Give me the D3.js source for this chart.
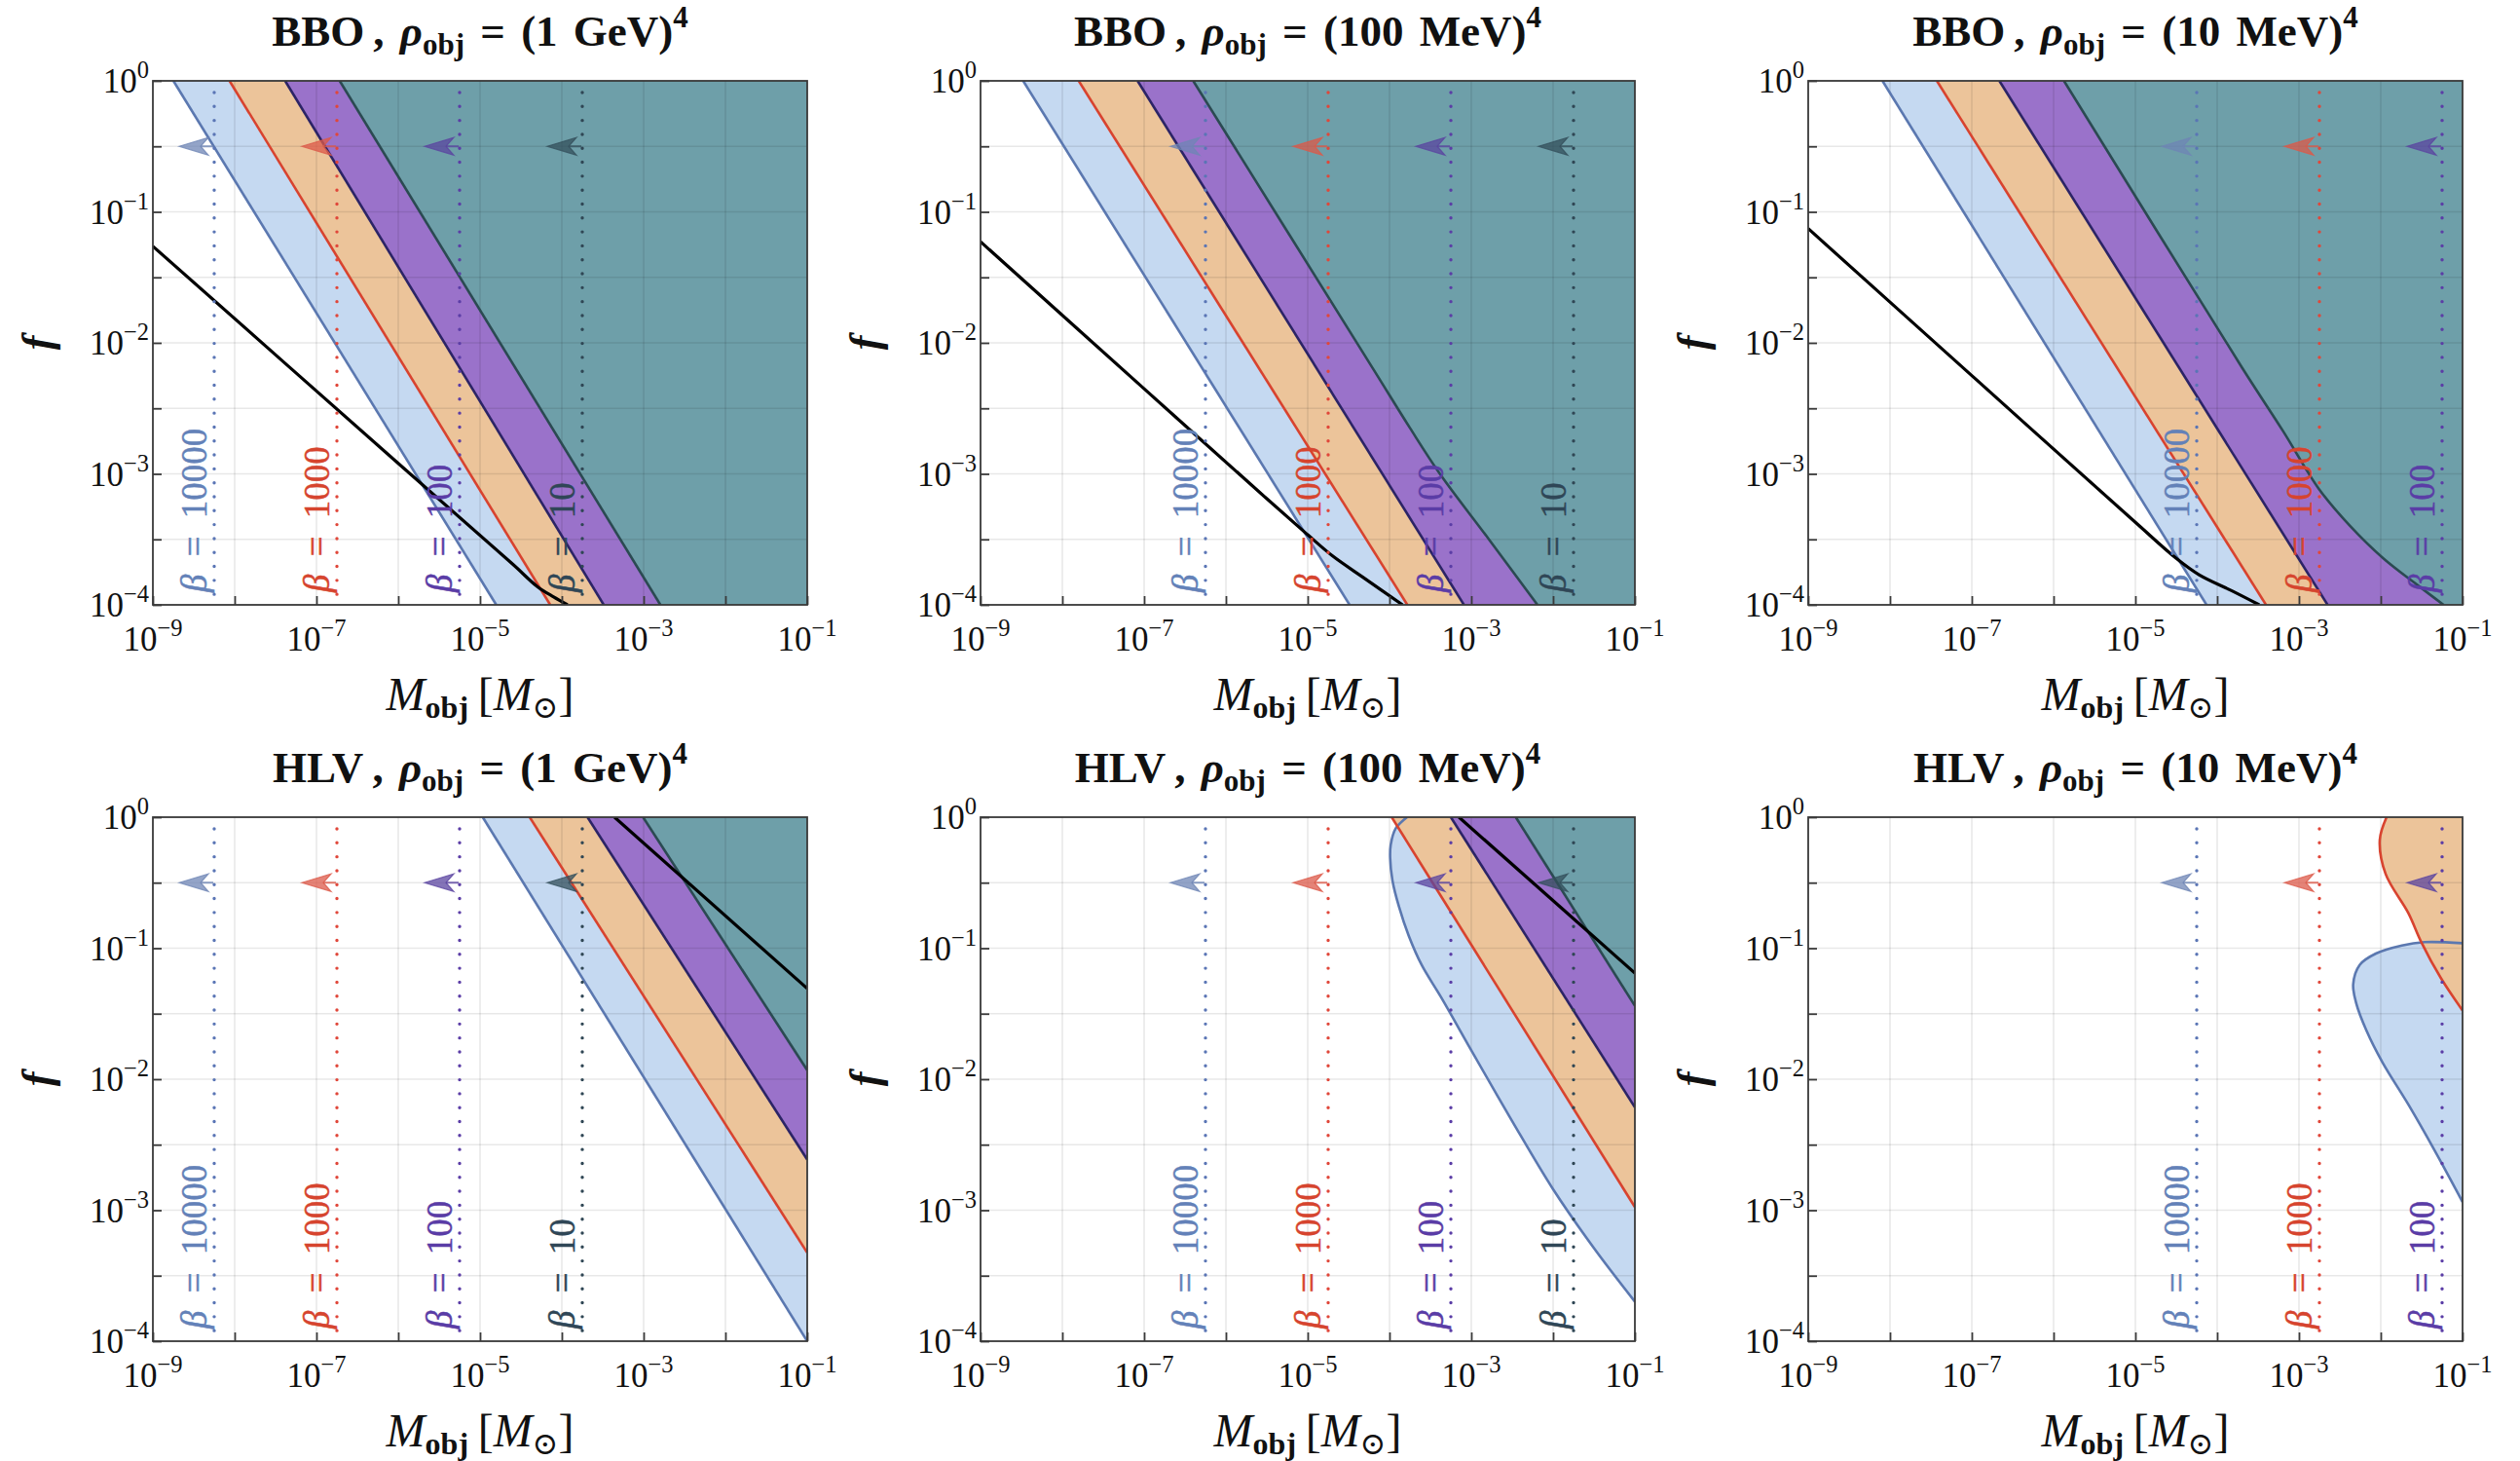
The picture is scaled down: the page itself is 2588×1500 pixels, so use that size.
<!DOCTYPE html>
<html>
<head>
<meta charset="utf-8">
<script src="https://cdn.jsdelivr.net/npm/d3@7"></script>
<style>
  body { margin: 0; background: #fff; }
</style>
</head>
<body>
<svg id="chart" width="2588" height="1500" font-family="'Liberation Serif', 'DejaVu Serif', serif"></svg>
<script>
// ---- axes -------------------------------------------------------------
const massDomain = [1e-9, 1e-1];          // M_obj [M_sun]
const fracDomain = [1e-4, 1];             // f
const massLabelExps = [-9, -7, -5, -3, -1];
const massTickExps = [-9, -8, -7, -6, -5, -4, -3, -2, -1];
const fracLabelExps = [0, -1, -2, -3, -4];
const fracTickExps = [0, -0.5, -1, -1.5, -2, -2.5, -3, -3.5, -4];

// ---- beta reference lines (log10 M) ------------------------------------
const betaValues = [10000, 1000, 100, 10];
const betaMass1GeV = [-8.25, -6.75, -5.25, -3.75];
const betaMass100MeV = [-6.25, -4.75, -3.25, -1.75];
const betaMass10MeV = [-4.25, -2.75, -1.25];
const arrowFracExp = -0.5;

// ---- region boundaries, points are [log10 M, log10 f] -------------------
// BBO, rho = (1 GeV)^4
const bbo1GeV_b10000 = [[-8.749, 0], [-4.802, -4]];
const bbo1GeV_b1000  = [[-8.063, 0], [-4.142, -4]];
const bbo1GeV_b100   = [[-7.383, 0], [-3.488, -4]];
const bbo1GeV_b10    = [[-6.716, 0], [-2.795, -4]];
const bbo1GeV_limit  = [[-9, -1.263], [-6, -2.92], [-4.6, -3.69], [-4.3, -3.86], [-4.1, -3.94], [-3.93, -4.0]];

// BBO, rho = (100 MeV)^4
const bbo100MeV_b10000 = [[-8.479, 0], [-4.488, -4]];
const bbo100MeV_b1000  = [[-7.8, 0], [-3.782, -4]];
const bbo100MeV_b100   = [[-7.08, 0], [-3.09, -4]];
const bbo100MeV_b10    = [[-6.4, 0], [-4.199, -2.2], [-3.75, -2.65], [-3.384, -3.0], [-2.787, -3.498], [-2.191, -4.0]];
const bbo100MeV_limit  = [[-9, -1.228], [-7, -2.35], [-5.5, -3.19], [-5.0, -3.465], [-4.7, -3.625], [-4.3, -3.80], [-3.84, -4.0]];

// BBO, rho = (10 MeV)^4
const bbo10MeV_b10000 = [[-8.092, 0], [-4.13, -4]];
const bbo10MeV_b1000  = [[-7.427, 0], [-3.403, -4]];
const bbo10MeV_b100   = [[-6.663, 0], [-2.65, -4]];
const bbo10MeV_b10    = [[-5.873, 0], [-3.69, -2.195], [-3.198, -2.67], [-2.75, -3.12], [-2.379, -3.395], [-1.969, -3.645], [-1.56, -3.845], [-1.232, -4.0]];
const bbo10MeV_limit  = [[-9, -1.128], [-7, -2.25], [-5.0, -3.37], [-4.5, -3.645], [-4.222, -3.77], [-3.813, -3.895], [-3.485, -4.0]];

// HLV, rho = (1 GeV)^4
const hlv1GeV_b10000 = [[-4.967, 0], [-1, -4]];
const hlv1GeV_b1000  = [[-4.393, 0], [-1, -3.324]];
const hlv1GeV_b100   = [[-3.686, 0], [-1, -2.613]];
const hlv1GeV_b10    = [[-3.007, 0], [-1, -1.931]];
const hlv1GeV_limit  = [[-3.356, 0], [-1, -1.308]];

// HLV, rho = (100 MeV)^4
const hlv100MeV_b10000 = [[-3.786, 0], [-3.925, -0.087], [-3.985, -0.211], [-3.992, -0.31], [-3.964, -0.483], [-3.885, -0.682], [-3.765, -0.905], [-3.607, -1.128], [-3.369, -1.375], [-3.0, -1.78], [-2.5, -2.32], [-2.0, -2.84], [-1.5, -3.29], [-1, -3.698]];
const hlv100MeV_b1000  = [[-3.973, 0], [-1, -2.976]];
const hlv100MeV_b100   = [[-3.25, 0], [-1, -2.215]];
const hlv100MeV_b10    = [[-2.456, 0], [-1, -1.44]];
const hlv100MeV_limit  = [[-3.151, 0], [-1, -1.19]];

// HLV, rho = (10 MeV)^4
const hlv10MeV_b10000 = [[-1, -0.962], [-1.464, -0.954], [-1.742, -0.979], [-2.06, -1.041], [-2.258, -1.128], [-2.337, -1.276], [-2.298, -1.425], [-2.179, -1.623], [-1.98, -1.871], [-1.663, -2.193], [-1.345, -2.54], [-1, -2.937]];
const hlv10MeV_b1000  = [[-1.929, 0], [-2.012, -0.173], [-1.94, -0.434], [-1.663, -0.731], [-1.504, -0.954], [-1.266, -1.227], [-1, -1.475]];

// ---- styles -------------------------------------------------------------
const regionStyle = {
  10000: { fill: "#c5d9f1", stroke: "#5b78b0" },
  1000:  { fill: "#ecc49a", stroke: "#d8432f" },
  100:   { fill: "#9a72ca", stroke: "#2c2466" },
  10:    { fill: "#6e9fa9", stroke: "#2b4a52" }
};
const betaLineColor  = { 10000: "#5a75b5", 1000: "#e0473a", 100: "#5b3da6", 10: "#2f4654" };
const betaLabelColor = { 10000: "#6381b8", 1000: "#d6442e", 100: "#5a3ca6", 10: "#2f4656" };
const arrowColor     = { 10000: "#6f86b5", 1000: "#dc5a4a", 100: "#5b45a0", 10: "#34505c" };

const panels = [
  { col: 0, row: 0, det: "BBO", rho: "1 GeV",   betaMass: betaMass1GeV,
    regions: [[10000, bbo1GeV_b10000], [1000, bbo1GeV_b1000], [100, bbo1GeV_b100], [10, bbo1GeV_b10]], limit: bbo1GeV_limit },
  { col: 1, row: 0, det: "BBO", rho: "100 MeV", betaMass: betaMass100MeV,
    regions: [[10000, bbo100MeV_b10000], [1000, bbo100MeV_b1000], [100, bbo100MeV_b100], [10, bbo100MeV_b10]], limit: bbo100MeV_limit },
  { col: 2, row: 0, det: "BBO", rho: "10 MeV",  betaMass: betaMass10MeV,
    regions: [[10000, bbo10MeV_b10000], [1000, bbo10MeV_b1000], [100, bbo10MeV_b100], [10, bbo10MeV_b10]], limit: bbo10MeV_limit },
  { col: 0, row: 1, det: "HLV", rho: "1 GeV",   betaMass: betaMass1GeV,
    regions: [[10000, hlv1GeV_b10000], [1000, hlv1GeV_b1000], [100, hlv1GeV_b100], [10, hlv1GeV_b10]], limit: hlv1GeV_limit },
  { col: 1, row: 1, det: "HLV", rho: "100 MeV", betaMass: betaMass100MeV,
    regions: [[10000, hlv100MeV_b10000], [1000, hlv100MeV_b1000], [100, hlv100MeV_b100], [10, hlv100MeV_b10]], limit: hlv100MeV_limit },
  { col: 2, row: 1, det: "HLV", rho: "10 MeV",  betaMass: betaMass10MeV,
    regions: [[10000, hlv10MeV_b10000], [1000, hlv10MeV_b1000]], limit: null }
];

// ---- layout -------------------------------------------------------------
const colX = [157, 1007, 1857];
const rowY = [83, 839];
const W = 672, H = 538;
const SERIF = "'Liberation Serif', 'DejaVu Serif', serif";

const svg = d3.select("#chart");
svg.append("rect").attr("width", 2588).attr("height", 1500).attr("fill", "#fff");

const x = d3.scaleLog().domain(massDomain).range([0, W]);
const y = d3.scaleLog().domain(fracDomain).range([H, 0]);
const px = d => x(Math.pow(10, d[0]));
const py = d => y(Math.pow(10, d[1]));
const curve = d3.line().x(px).y(py).curve(d3.curveCatmullRom.alpha(0.5));

const logMax = Math.log10(massDomain[1]);
const fMin = Math.log10(fracDomain[0]), fMax = Math.log10(fracDomain[1]);

// region = everything to the right of the boundary, closed along the frame
function regionPath(pts) {
  const first = pts[0], last = pts[pts.length - 1];
  const corners = [];
  if (last[1] <= fMin + 1e-9 && last[0] < logMax) corners.push([logMax, fMin]);
  if (first[1] >= fMax - 1e-9 && first[0] < logMax) corners.push([logMax, fMax]);
  return curve(pts) + corners.map(c => `L${px(c)},${py(c)}`).join("") + "Z";
}

function supLabel(sel, base, exp, size) {
  sel.append("tspan").text(base);
  sel.append("tspan").attr("font-size", size * 0.7).attr("dy", -size * 0.42)
     .text(exp < 0 ? "\u2212" + Math.abs(exp) : String(exp));
}

panels.forEach((p, i) => {
  const g = svg.append("g").attr("transform", `translate(${colX[p.col]},${rowY[p.row]})`)
    .attr("font-family", SERIF);
  const clipId = "clip" + i;
  g.append("clipPath").attr("id", clipId).append("rect").attr("width", W).attr("height", H);
  const plot = g.append("g").attr("clip-path", `url(#${clipId})`);

  // filled regions
  p.regions.forEach(([b, pts]) => {
    plot.append("path").attr("d", regionPath(pts))
      .attr("fill", regionStyle[b].fill).attr("stroke", "none");
  });

  // grid
  const grid = plot.append("g").attr("stroke", "#000").attr("stroke-opacity", 0.09).attr("stroke-width", 1.6);
  massTickExps.forEach(e => {
    grid.append("line").attr("x1", x(Math.pow(10, e))).attr("x2", x(Math.pow(10, e)))
      .attr("y1", 0).attr("y2", H);
  });
  fracTickExps.forEach(e => {
    grid.append("line").attr("y1", y(Math.pow(10, e))).attr("y2", y(Math.pow(10, e)))
      .attr("x1", 0).attr("x2", W);
  });

  // region boundaries
  p.regions.forEach(([b, pts]) => {
    plot.append("path").attr("d", curve(pts)).attr("fill", "none")
      .attr("stroke", regionStyle[b].stroke).attr("stroke-width", 2.6);
  });

  // limit curve
  if (p.limit) {
    plot.append("path").attr("d", curve(p.limit)).attr("fill", "none")
      .attr("stroke", "#000").attr("stroke-width", 3.2);
  }

  // beta lines, arrows and labels
  const ay = y(Math.pow(10, arrowFracExp));
  p.betaMass.forEach((m, k) => {
    const b = betaValues[k];
    const lx = x(Math.pow(10, m));
    plot.append("line").attr("x1", lx).attr("x2", lx).attr("y1", 12).attr("y2", H)
      .attr("stroke", betaLineColor[b]).attr("stroke-width", 3.4)
      .attr("stroke-linecap", "round").attr("stroke-dasharray", "0.01 14.3");

    const tip = lx - 36, back = lx - 6, notch = lx - 14, h = 9;
    plot.append("line").attr("x1", notch).attr("x2", lx - 1).attr("y1", ay).attr("y2", ay)
      .attr("stroke", arrowColor[b]).attr("stroke-width", 2).attr("stroke-opacity", 0.8);
    plot.append("path")
      .attr("d", `M${tip},${ay}L${back},${ay - h}L${notch},${ay}L${back},${ay + h}Z`)
      .attr("fill", arrowColor[b]).attr("fill-opacity", 0.75)
      .attr("stroke", arrowColor[b]).attr("stroke-width", 1.2).attr("stroke-opacity", 0.8);

    const t = plot.append("text")
      .attr("transform", `translate(${lx - 8},${H - 13}) rotate(-90)`)
      .attr("font-size", 37).attr("fill", betaLabelColor[b])
      .attr("stroke", betaLabelColor[b]).attr("stroke-width", 0.5)
      .attr("word-spacing", 9);
    t.append("tspan").attr("font-style", "italic").text("\u03B2");
    t.append("tspan").text(" = " + b);
  });

  // frame
  g.append("rect").attr("width", W).attr("height", H).attr("fill", "none")
    .attr("stroke", "#3a3a3a").attr("stroke-width", 1.8);

  // ticks (inward)
  g.append("g").attr("transform", `translate(0,${H})`)
    .call(d3.axisBottom(x).tickValues(massTickExps.map(e => Math.pow(10, e))).tickSize(-9).tickFormat(""))
    .call(s => s.select(".domain").remove())
    .call(s => s.selectAll("line").attr("stroke", "#3a3a3a").attr("stroke-width", 1.8));
  g.append("g")
    .call(d3.axisLeft(y).tickValues(fracTickExps.map(e => Math.pow(10, e))).tickSize(-9).tickFormat(""))
    .call(s => s.select(".domain").remove())
    .call(s => s.selectAll("line").attr("stroke", "#3a3a3a").attr("stroke-width", 1.8));

  // tick labels
  massLabelExps.forEach(e => {
    const t = g.append("text").attr("x", x(Math.pow(10, e))).attr("y", H + 47)
      .attr("text-anchor", "middle").attr("font-size", 35).attr("fill", "#111")
      .attr("font-family", SERIF);
    supLabel(t, "10", e, 35);
  });
  fracLabelExps.forEach(e => {
    const t = g.append("text").attr("x", -4).attr("y", y(Math.pow(10, e)) + 12)
      .attr("text-anchor", "end").attr("font-size", 35).attr("fill", "#111")
      .attr("font-family", SERIF);
    supLabel(t, "10", e, 35);
  });

  // axis titles
  const xt = g.append("text").attr("x", W / 2).attr("y", H + 108)
    .attr("text-anchor", "middle").attr("font-size", 48).attr("fill", "#111")
    .attr("font-family", SERIF);
  xt.append("tspan").attr("font-style", "italic").text("M");
  xt.append("tspan").attr("font-size", 32).attr("font-weight", "bold").attr("dy", 8).text("obj");
  xt.append("tspan").attr("dy", -8).text("\u2009[");
  xt.append("tspan").attr("font-style", "italic").text("M");
  xt.append("tspan").attr("font-size", 32).attr("dy", 8).text("\u2299");
  xt.append("tspan").attr("dy", -8).text("]");

  g.append("text").attr("transform", `translate(-104,${H / 2}) rotate(-90)`)
    .attr("text-anchor", "middle").attr("font-size", 44).attr("font-weight", "bold")
    .attr("font-style", "italic").attr("fill", "#111").attr("font-family", SERIF).text("f");

  // panel title
  const tt = g.append("text").attr("x", W / 2).attr("y", -36)
    .attr("text-anchor", "middle").attr("font-size", 45).attr("font-weight", "bold").attr("fill", "#111")
    .attr("font-family", SERIF).attr("word-spacing", 5);
  tt.append("tspan").text(p.det + "\u2009, ");
  tt.append("tspan").attr("font-style", "italic").text("\u03C1");
  tt.append("tspan").attr("font-size", 31).attr("dy", 9).text("obj");
  tt.append("tspan").attr("dy", -9).text(" = (" + p.rho + ")");
  tt.append("tspan").attr("font-size", 31).attr("dy", -19).text("4");
});
</script>
</body>
</html>
